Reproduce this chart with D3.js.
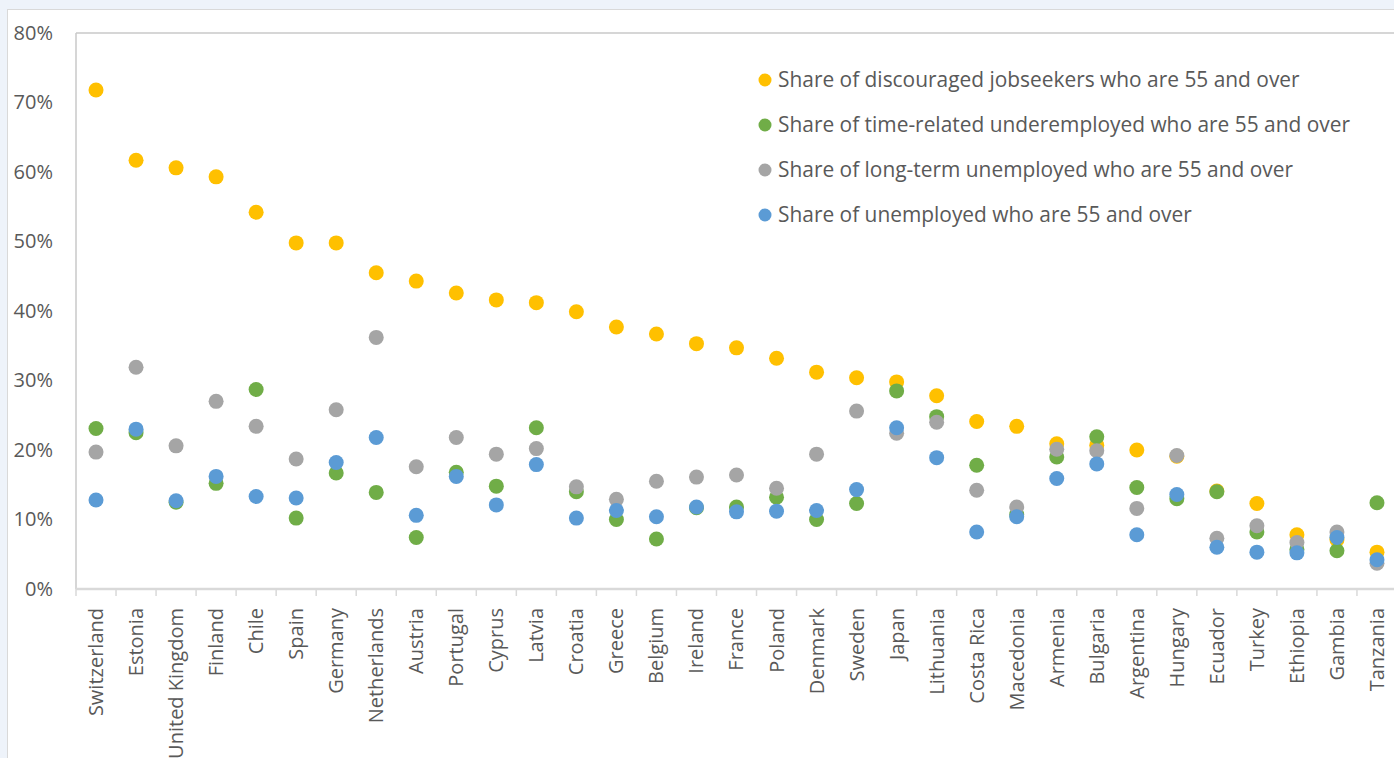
<!DOCTYPE html>
<html>
<head>
<meta charset="utf-8">
<script src="https://cdn.jsdelivr.net/npm/d3@7"></script>
<style>
  html, body { margin: 0; padding: 0; background: #eef3fa; overflow: hidden; }
  svg { display: block; }
  text { font-family: "Open Sans", sans-serif; fill: #595959; }
</style>
</head>
<body>
<svg id="chart" width="1394" height="758"></svg>
<script>
// Countries, ordered by share of discouraged jobseekers aged 55+
const countries = ["Switzerland","Estonia","United Kingdom","Finland","Chile","Spain","Germany","Netherlands","Austria","Portugal","Cyprus","Latvia","Croatia","Greece","Belgium","Ireland","France","Poland","Denmark","Sweden","Japan","Lithuania","Costa Rica","Macedonia","Armenia","Bulgaria","Argentina","Hungary","Ecuador","Turkey","Ethiopia","Gambia","Tanzania"];

// Shares (%) of each group who are 55 and over
const discouraged = [71.8,61.7,60.6,59.3,54.2,49.8,49.8,45.5,44.3,42.6,41.6,41.2,39.9,37.7,36.7,35.3,34.7,33.2,31.2,30.4,29.8,27.8,24.1,23.4,20.9,20.7,20.0,19.1,14.1,12.3,7.8,7.1,5.3];
const underemployed = [23.1,22.5,12.5,15.2,28.7,10.2,16.7,13.9,7.4,16.8,14.8,23.2,14.0,10.0,7.2,11.7,11.8,13.2,10.0,12.3,28.5,24.8,17.8,10.7,19.0,21.9,14.6,13.0,14.0,8.2,5.7,5.5,12.4];
const longTerm = [19.7,31.9,20.6,27.0,23.4,18.7,25.8,36.2,17.6,21.8,19.4,20.2,14.7,12.9,15.5,16.1,16.4,14.5,19.4,25.6,22.4,24.0,14.2,11.8,20.1,19.9,11.6,19.2,7.3,9.1,6.7,8.2,3.7];
const unemployed = [12.8,23.0,12.7,16.2,13.3,13.1,18.2,21.8,10.6,16.2,12.1,17.9,10.2,11.3,10.4,11.8,11.1,11.2,11.3,14.3,23.2,18.9,8.2,10.4,15.9,18.0,7.8,13.6,6.0,5.3,5.2,7.4,4.2];

const yTicks = [0,10,20,30,40,50,60,70,80];

const seriesNames = [
  "Share of discouraged jobseekers who are 55 and over",
  "Share of time-related underemployed who are 55 and over",
  "Share of long-term unemployed who are 55 and over",
  "Share of unemployed who are 55 and over"
];
const seriesColors = ["#ffc000","#70ad47","#a5a5a5","#5b9bd5"];
const seriesValues = [discouraged, underemployed, longTerm, unemployed];

const svg = d3.select("#chart");

// Chart card
svg.append("rect")
  .attr("x", 7.5).attr("y", 9.5)
  .attr("width", 1400).attr("height", 760)
  .attr("fill", "#ffffff").attr("stroke", "#d9d9d9").attr("stroke-width", 1);

const plot = { left: 76, top: 33, bottom: 589 };

const x = d3.scaleBand()
  .domain(countries)
  .range([plot.left, plot.left + countries.length * 40.03])
  .paddingInner(0).paddingOuter(0);

const y = d3.scaleLinear()
  .domain([0, 80])
  .range([plot.bottom, plot.top]);

// Plot frame (top + left)
svg.append("line")
  .attr("x1", plot.left).attr("x2", 1400)
  .attr("y1", plot.top).attr("y2", plot.top)
  .attr("stroke", "#c8c8c8").attr("stroke-width", 1.5);
svg.append("line")
  .attr("x1", plot.left).attr("x2", plot.left)
  .attr("y1", plot.top).attr("y2", plot.bottom)
  .attr("stroke", "#c8c8c8").attr("stroke-width", 1.5);

// Y axis labels
const yAxis = d3.axisLeft(y)
  .tickValues(yTicks)
  .tickSize(0)
  .tickPadding(0)
  .tickFormat(d => d + "%");
const gy = svg.append("g")
  .attr("transform", `translate(53,0)`)
  .call(yAxis);
gy.select(".domain").remove();
gy.selectAll("text")
  .attr("font-size", 20)
  .attr("fill", "#595959")
  .attr("font-family", "'Open Sans', sans-serif");

// X axis with category-boundary ticks
const gx = svg.append("g")
  .attr("transform", `translate(0,${plot.bottom})`);
gx.append("line")
  .attr("x1", plot.left).attr("x2", 1400)
  .attr("y1", 0).attr("y2", 0)
  .attr("stroke", "#d9d9d9").attr("stroke-width", 2.5);
gx.selectAll("line.tick")
  .data(countries)
  .join("line")
  .attr("class", "tick")
  .attr("x1", d => x(d)).attr("x2", d => x(d))
  .attr("y1", 0).attr("y2", 7)
  .attr("stroke", "#d9d9d9").attr("stroke-width", 1.5);
gx.selectAll("text.cat")
  .data(countries)
  .join("text")
  .attr("class", "cat")
  .attr("transform", d => `translate(${x(d) + x.bandwidth() / 2 + 7},${19}) rotate(-90)`)
  .attr("text-anchor", "end")
  .attr("font-size", 20)
  .text(d => d);

// Points: drawn series by series so later series sit on top
seriesValues.forEach((vals, i) => {
  svg.append("g")
    .selectAll("circle")
    .data(vals)
    .join("circle")
    .attr("cx", (d, j) => x(countries[j]) + x.bandwidth() / 2)
    .attr("cy", d => y(d))
    .attr("r", 7.5)
    .attr("fill", seriesColors[i]);
});

// Legend
const legend = svg.append("g").attr("transform", "translate(765,80)");
seriesNames.forEach((name, i) => {
  const row = legend.append("g").attr("transform", `translate(0,${i * 45})`);
  row.append("circle").attr("cx", 0).attr("cy", 0).attr("r", 6.5).attr("fill", seriesColors[i]);
  row.append("text")
    .attr("x", 13).attr("y", 0)
    .attr("dy", "0.35em")
    .attr("font-size", 20.9)
    .text(name);
});
</script>
</body>
</html>
